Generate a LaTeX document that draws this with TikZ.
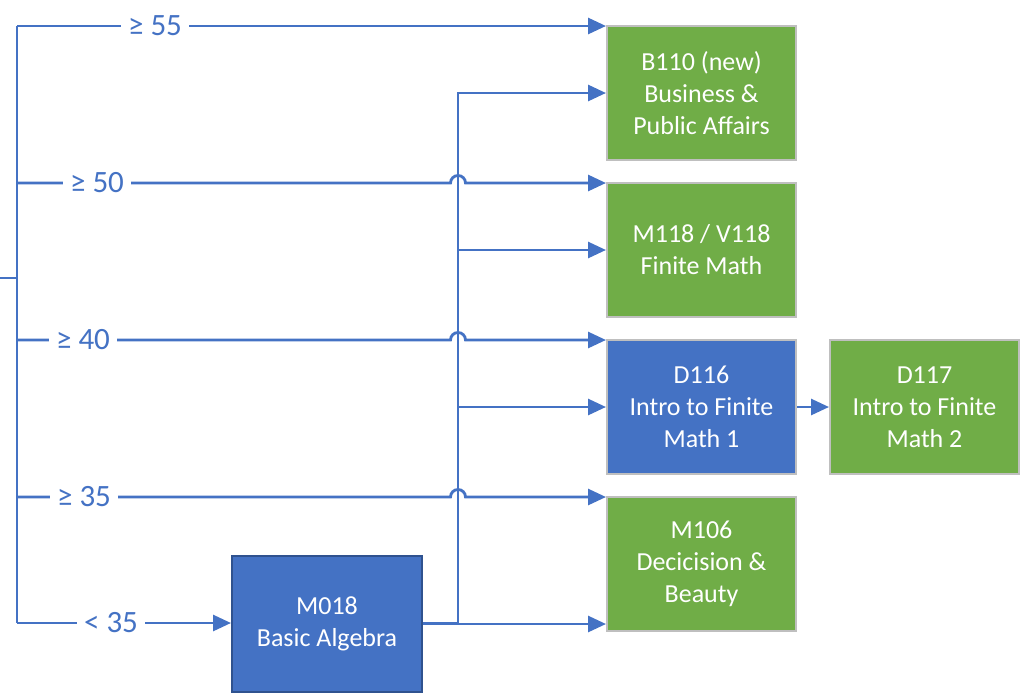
\documentclass[tikz,border=0pt]{standalone}
\usepackage{fontspec}
\setmainfont{Carlito}
\usetikzlibrary{arrows.meta}
\definecolor{lblue}{HTML}{4472C4}
\definecolor{lgreen}{HTML}{70AD47}
\definecolor{bgray}{HTML}{BFBFBF}
\definecolor{dblue}{HTML}{2F528F}
\begin{document}
\begin{tikzpicture}[x=1pt,y=-1pt,
  conn/.style={draw=lblue,line width=2.8pt},
  arr/.style={conn,-{Triangle[length=18pt,width=16pt]}},
  course/.style={draw=bgray,line width=2pt,minimum width=189pt,minimum height=134pt,
    align=center,text=white,font=\fontsize{26}{32}\selectfont,inner sep=0pt},
  gbox/.style={course,fill=lgreen},
  bbox/.style={course,fill=lblue},
  lbl/.style={fill=white,text=lblue,font=\fontsize{31}{34}\selectfont,inner xsep=7pt,inner ysep=2pt}]
\useasboundingbox (0,0) rectangle (1024,694);
% boxes
\node[gbox] (B110) at (701.5,93) {B110 (new)\\Business \&\\Public Affairs};
\node[gbox] (M118) at (701.5,250) {M118 / V118\\Finite Math};
\node[bbox] (D116) at (701.5,407) {D116\\Intro to Finite\\Math 1};
\node[gbox] (D117) at (924.5,407) {D117\\Intro to Finite\\Math 2};
\node[gbox] (M106) at (701.5,564) {M106\\Decicision \&\\Beauty};
\node[bbox,draw=dblue,minimum width=190pt,minimum height=136pt] (M018) at (327,624) {M018\\Basic Algebra};
% bus coordinates
\coordinate (in) at (0,278);
\coordinate (bi) at (17,278);
\coordinate (b55) at (17,26);
\coordinate (b50) at (17,183);
\coordinate (b40) at (17,340);
\coordinate (b35) at (17,497);
\coordinate (b34) at (17,623);
\coordinate (j) at (458,623);
\coordinate (jt) at (458,93);
% input and bus
\draw[conn] (in) -- (bi);
\draw[conn] (b55) -- (b34);
% threshold lines
\draw[arr] (b55) -- (b55 -| B110.west);
\draw[arr] (b50) -- ([xshift=-7.5pt]b50 -| j) arc[start angle=180,end angle=0,radius=7.5pt] -- (b50 -| M118.west);
\draw[arr] (b40) -- ([xshift=-7.5pt]b40 -| j) arc[start angle=180,end angle=0,radius=7.5pt] -- (b40 -| D116.west);
\draw[arr] (b35) -- ([xshift=-7.5pt]b35 -| j) arc[start angle=180,end angle=0,radius=7.5pt] -- (b35 -| M106.west);
\draw[arr] (b34) -- (b34 -| M018.west);
% from M018
\draw[arr] (b34 -| M018.east) -- (j) -- (jt) -- (jt -| B110.west);
\draw[arr] (j |- M118.west) -- (M118.west);
\draw[arr] (j |- D116.west) -- (D116.west);
\draw[arr] ([yshift=-1pt]b34 -| M018.east) -- ([yshift=-1pt]b34 -| M106.west);
\draw[arr] (D116.east) -- (D117.west);
% labels
\node[lbl] (l55) at (155,26) {≥ 55};
\node[lbl] (l50) at (97,183) {≥ 50};
\node[lbl] (l40) at (83,340) {≥ 40};
\node[lbl] (l35) at (84,497) {≥ 35};
\node[lbl] (l34) at (111,623) {< 35};
\end{tikzpicture}
\end{document}
